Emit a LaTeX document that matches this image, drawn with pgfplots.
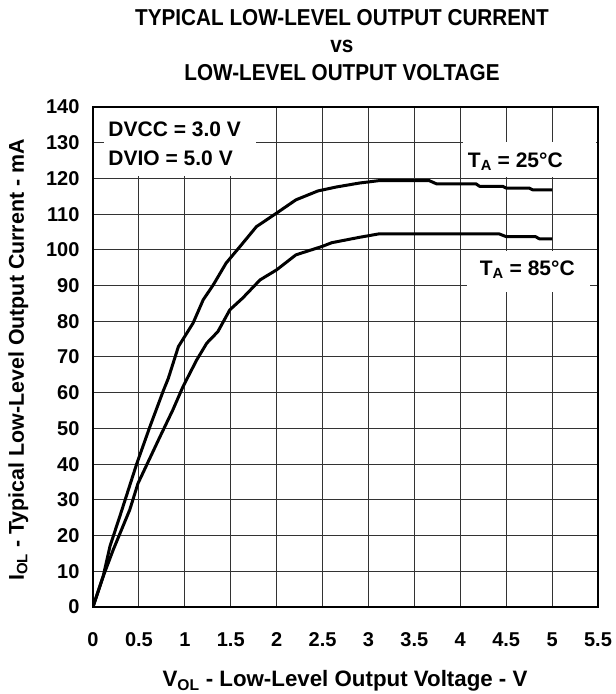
\documentclass[border=0pt]{standalone}
\usepackage{fontspec}
\setmainfont{Liberation Sans}
\newfontfamily\titlefont{Liberation Sans}[FakeStretch=0.9]
\usepackage{pgfplots}
\pgfplotsset{compat=1.18}
\begin{document}
\begin{tikzpicture}[x=1pt,y=1pt]
\useasboundingbox (0,0) rectangle (616,694);
\begin{axis}[
  at={(93pt,87pt)}, anchor=south west,
  scale only axis, width=505pt, height=500pt,
  xmin=0, xmax=5.5, ymin=0, ymax=140,
  xtick={0,0.5,1,1.5,2,2.5,3,3.5,4,4.5,5,5.5},
  ytick={0,10,20,30,40,50,60,70,80,90,100,110,120,130,140},
  grid=major,
  major grid style={line width=1pt, color=black!80},
  axis line style={line width=2pt},
  major tick length=0pt,
  tick label style={font=\fontsize{20}{24}\selectfont\bfseries},
  /pgf/number format/assume math mode=true,
  xticklabel style={yshift=-22pt},
  yticklabel style={xshift=-10pt},
]
\fill[white] (axis cs:0.12,120.6) rectangle (axis cs:1.78,139.6);
\fill[white] (axis cs:4.03,120.5) rectangle (axis cs:5.48,130.3);
\fill[white] (axis cs:4.07,88.2) rectangle (axis cs:5.41,99.8);
\addplot[black, line width=3pt, line join=round] coordinates {
(0,0) (0.11,8.5) (0.185,17) (0.3,26) (0.475,40) (0.62,50.5) (0.765,60.5) (0.82,64)
(0.93,72.9) (1.09,79.5) (1.2,86) (1.31,90.2) (1.45,96.3) (1.6,100.9) (1.78,106.5)
(2.0,110.3) (2.21,114) (2.45,116.5) (2.65,117.6) (2.9,118.7) (3.12,119.4) (3.66,119.4)
(3.74,118.5) (4.17,118.5) (4.21,117.8) (4.46,117.8) (4.5,117.3) (4.75,117.3) (4.79,116.8) (5.0,116.8)
};
\addplot[black, line width=3pt, line join=round] coordinates {
(0,0) (0.11,8.5) (0.22,16) (0.4,27.2) (0.49,34.6) (0.73,47.7) (0.87,55.2) (0.98,61.7)
(1.13,69.2) (1.24,73.9) (1.36,77.1) (1.49,83.2) (1.63,86.5) (1.82,91.6) (2.0,94.4)
(2.21,98.6) (2.5,101) (2.6,102) (2.9,103.5) (3.12,104.5) (4.42,104.5) (4.5,103.7)
(4.82,103.7) (4.86,103.1) (5.0,103.1)
};
\node[anchor=west, font=\fontsize{21}{25}\selectfont\bfseries] at (axis cs:0.13,133.7) {DVCC = 3.0 V};
\node[anchor=west, font=\fontsize{21}{25}\selectfont\bfseries] at (axis cs:0.13,125.7) {DVIO = 5.0 V};
\node[font=\fontsize{21}{25}\selectfont\bfseries] at (axis cs:4.6,124.6) {T\textsubscript{A} = 25°C};
\node[font=\fontsize{21}{25}\selectfont\bfseries] at (axis cs:4.73,94.4) {T\textsubscript{A} = 85°C};
\end{axis}
\node[anchor=base, font=\titlefont\fontsize{23}{27}\selectfont\bfseries] at (342,668) {TYPICAL LOW-LEVEL OUTPUT CURRENT};
\node[anchor=base, font=\titlefont\fontsize{23}{27}\selectfont\bfseries] at (342,641) {vs};
\node[anchor=base, font=\titlefont\fontsize{23}{27}\selectfont\bfseries] at (342,613) {LOW-LEVEL OUTPUT VOLTAGE};
\node[anchor=base, font=\fontsize{22.3}{26}\selectfont\bfseries] at (345,7) {V\textsubscript{OL} - Low-Level Output Voltage - V};
\node[anchor=base, rotate=90, font=\fontsize{21.4}{25}\selectfont\bfseries] at (24,334) {I\textsubscript{OL} - Typical Low-Level Output Current - mA};
\end{tikzpicture}
\end{document}
